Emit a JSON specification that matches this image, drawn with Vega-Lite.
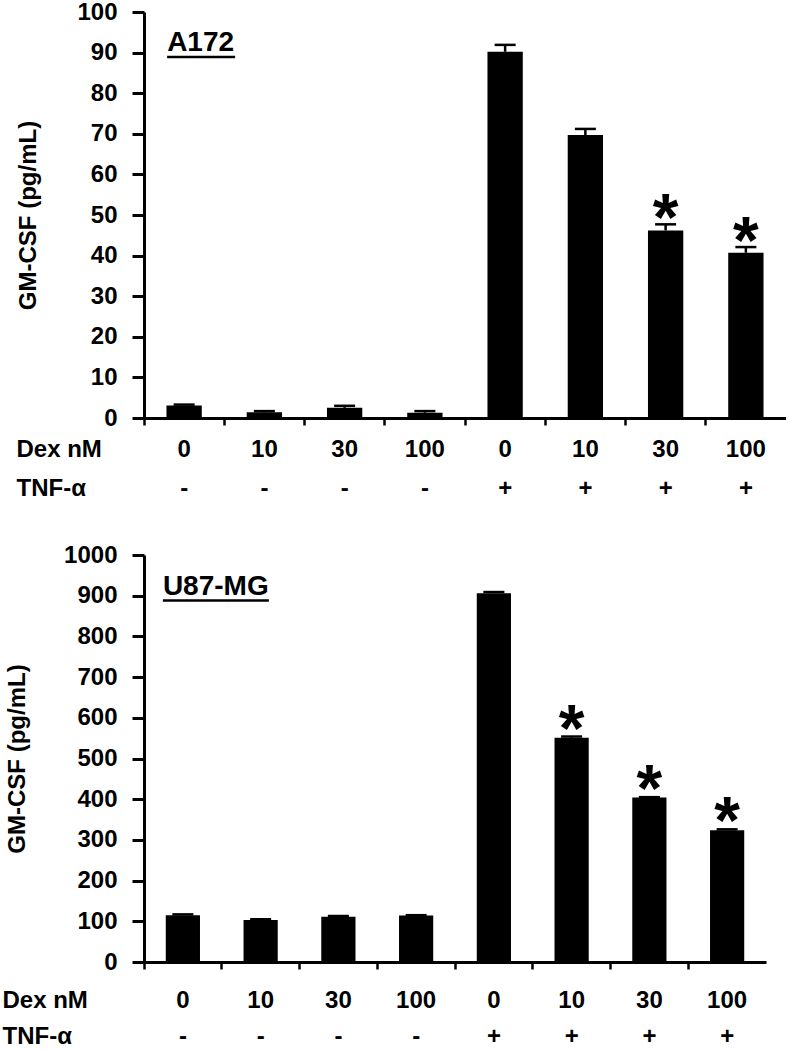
{
  "$schema": "https://vega.github.io/schema/vega-lite/v6.json",
  "padding": {"left": 2, "top": 0, "right": 0, "bottom": 0},
  "spacing": 43,
  "config": {
    "font": "Liberation Sans",
    "view": {"stroke": null},
    "axis": {"grid": false, "domainColor": "black", "tickColor": "black", "labelColor": "black", "titleColor": "black"}
  },
  "datasets": {
    "a172": [
      {"cond": "0|-", "mean": 3.1, "upper": 3.3, "sig": ""},
      {"cond": "10|-", "mean": 1.4, "upper": 1.7, "sig": ""},
      {"cond": "30|-", "mean": 2.5, "upper": 3.0, "sig": ""},
      {"cond": "100|-", "mean": 1.3, "upper": 1.7, "sig": ""},
      {"cond": "0|+", "mean": 90.2, "upper": 91.9, "sig": ""},
      {"cond": "10|+", "mean": 69.7, "upper": 71.2, "sig": ""},
      {"cond": "30|+", "mean": 46.2, "upper": 47.7, "sig": "*"},
      {"cond": "100|+", "mean": 40.7, "upper": 42.1, "sig": "*"}
    ],
    "u87": [
      {"cond": "0|-", "mean": 115, "upper": 117, "sig": ""},
      {"cond": "10|-", "mean": 103, "upper": 105, "sig": ""},
      {"cond": "30|-", "mean": 111, "upper": 113, "sig": ""},
      {"cond": "100|-", "mean": 114, "upper": 115, "sig": ""},
      {"cond": "0|+", "mean": 906, "upper": 909, "sig": ""},
      {"cond": "10|+", "mean": 551, "upper": 554, "sig": "*"},
      {"cond": "30|+", "mean": 404, "upper": 405, "sig": "*"},
      {"cond": "100|+", "mean": 324, "upper": 326, "sig": "*"}
    ]
  },
  "vconcat": [
    {
      "width": 642,
      "height": 406,
      "data": {"name": "a172"},
      "encoding": {
        "x": {
          "field": "cond", "type": "nominal",
          "scale": {"domain": ["0|-", "10|-", "30|-", "100|-", "0|+", "10|+", "30|+", "100|+"], "paddingInner": 0, "paddingOuter": 0},
          "axis": {
            "title": ["Dex nM", "TNF-α"],
            "titleFontSize": 24, "titleFontWeight": "bold", "titleAlign": "left", "titleBaseline": "top",
            "titleX": -128, "titleY": 19, "titleLineHeight": 39, "titleAngle": 0,
            "labelExpr": "split(datum.value, '|')", "labelAngle": 0, "labelBaseline": "top",
            "labelLineHeight": 39, "labelPadding": 12, "labelFontSize": 24, "labelFontWeight": "bold",
            "tickSize": 7, "tickWidth": 2.5, "bandPosition": 0, "domainWidth": 3
          }
        }
      },
      "layer": [
        {
          "mark": {"type": "bar", "color": "black", "width": {"band": 0.44}},
          "encoding": {
            "y": {
              "field": "mean", "type": "quantitative",
              "scale": {"domain": [0, 100], "nice": false},
              "axis": {
                "values": [0, 10, 20, 30, 40, 50, 60, 70, 80, 90, 100], "format": "d",
                "title": "GM-CSF (pg/mL)", "titleFontSize": 24, "titleFontWeight": "bold", "titlePadding": 36,
                "labelFontSize": 24, "labelFontWeight": "bold", "labelPadding": 15,
                "tickSize": 12, "tickWidth": 3, "domainWidth": 3
              }
            }
          }
        },
        {
          "mark": {"type": "rule", "color": "black", "strokeWidth": 2.5},
          "encoding": {"y": {"field": "mean", "type": "quantitative"}, "y2": {"field": "upper"}}
        },
        {
          "mark": {"type": "tick", "color": "black", "opacity": 1, "thickness": 2.5, "size": 21},
          "encoding": {"y": {"field": "upper", "type": "quantitative"}}
        },
        {
          "mark": {"type": "text", "fontSize": 66, "fontWeight": "bold", "baseline": "alphabetic", "dy": 16},
          "encoding": {"y": {"field": "upper", "type": "quantitative"}, "text": {"field": "sig"}}
        },
        {
          "data": {"values": [{"cell": "A172", "pos": "0|-", "lvl": 90.4}]},
          "mark": {"type": "text", "fontSize": 28, "fontWeight": "bold", "align": "left", "baseline": "alphabetic", "dx": -17},
          "encoding": {"x": {"field": "pos", "type": "nominal"}, "y": {"field": "lvl", "type": "quantitative"}, "text": {"field": "cell"}}
        },
        {
          "data": {"values": [{"pos": "0|-", "lvl": 88.9}]},
          "mark": {"type": "tick", "color": "black", "opacity": 1, "thickness": 2.5, "size": 68, "xOffset": 17},
          "encoding": {"x": {"field": "pos", "type": "nominal"}, "y": {"field": "lvl", "type": "quantitative"}}
        }
      ]
    },
    {
      "width": 622,
      "height": 407,
      "data": {"name": "u87"},
      "encoding": {
        "x": {
          "field": "cond", "type": "nominal",
          "scale": {"domain": ["0|-", "10|-", "30|-", "100|-", "0|+", "10|+", "30|+", "100|+"], "paddingInner": 0, "paddingOuter": 0},
          "axis": {
            "title": ["Dex nM", "TNF-α"],
            "titleFontSize": 24, "titleFontWeight": "bold", "titleAlign": "left", "titleBaseline": "top",
            "titleX": -142, "titleY": 26, "titleLineHeight": 36, "titleAngle": 0,
            "labelExpr": "split(datum.value, '|')", "labelAngle": 0, "labelBaseline": "top",
            "labelLineHeight": 36, "labelPadding": 19, "labelFontSize": 24, "labelFontWeight": "bold",
            "tickSize": 7, "tickWidth": 2.5, "bandPosition": 0, "domainWidth": 3
          }
        }
      },
      "layer": [
        {
          "mark": {"type": "bar", "color": "black", "width": {"band": 0.44}},
          "encoding": {
            "y": {
              "field": "mean", "type": "quantitative",
              "scale": {"domain": [0, 1000], "nice": false},
              "axis": {
                "values": [0, 100, 200, 300, 400, 500, 600, 700, 800, 900, 1000], "format": "d",
                "title": "GM-CSF (pg/mL)", "titleFontSize": 24, "titleFontWeight": "bold", "titlePadding": 34,
                "labelFontSize": 24, "labelFontWeight": "bold", "labelPadding": 15,
                "tickSize": 12, "tickWidth": 3, "domainWidth": 3
              }
            }
          }
        },
        {
          "mark": {"type": "rule", "color": "black", "strokeWidth": 2.5},
          "encoding": {"y": {"field": "mean", "type": "quantitative"}, "y2": {"field": "upper"}}
        },
        {
          "mark": {"type": "tick", "color": "black", "opacity": 1, "thickness": 2.5, "size": 21},
          "encoding": {"y": {"field": "upper", "type": "quantitative"}}
        },
        {
          "mark": {"type": "text", "fontSize": 66, "fontWeight": "bold", "baseline": "alphabetic", "dy": 14},
          "encoding": {"y": {"field": "upper", "type": "quantitative"}, "text": {"field": "sig"}}
        },
        {
          "data": {"values": [{"cell": "U87-MG", "pos": "0|-", "lvl": 902}]},
          "mark": {"type": "text", "fontSize": 28, "fontWeight": "bold", "align": "left", "baseline": "alphabetic", "dx": -20},
          "encoding": {"x": {"field": "pos", "type": "nominal"}, "y": {"field": "lvl", "type": "quantitative"}, "text": {"field": "cell"}}
        },
        {
          "data": {"values": [{"pos": "0|-", "lvl": 888}]},
          "mark": {"type": "tick", "color": "black", "opacity": 1, "thickness": 2.5, "size": 106, "xOffset": 33},
          "encoding": {"x": {"field": "pos", "type": "nominal"}, "y": {"field": "lvl", "type": "quantitative"}}
        }
      ]
    }
  ]
}
